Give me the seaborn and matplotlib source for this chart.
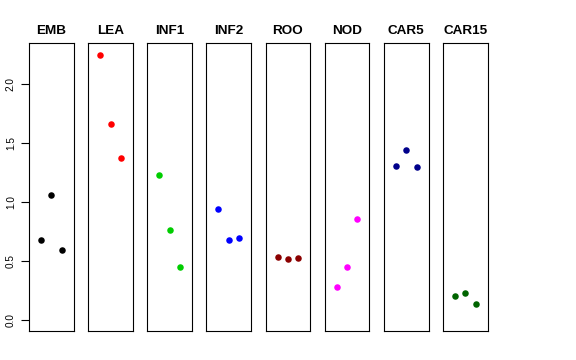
import matplotlib
matplotlib.use("Agg")
import matplotlib.pyplot as plt
import pandas as pd
import seaborn as sns

# valores (3 replicas por tejido)
tissues = ["EMB", "LEA", "INF1", "INF2", "ROO", "NOD", "CAR5", "CAR15"]
colors = ["black", "red", "#00CD00", "blue", "#8B0000", "magenta", "#00008B", "#006400"]
emb = [0.68, 1.055, 0.595]
lea = [2.245, 1.655, 1.37]
inf1 = [1.225, 0.765, 0.45]
inf2 = [0.94, 0.675, 0.695]
roo = [0.536, 0.519, 0.522]
nod = [0.28, 0.445, 0.856]
car5 = [1.303, 1.435, 1.297]
car15 = [0.205, 0.23, 0.132]
replicate = [1, 2, 3]

values = [emb, lea, inf1, inf2, roo, nod, car5, car15]

sns.set_style("white")
plt.rcParams["font.family"] = ["Liberation Sans", "DejaVu Sans"]

fig = plt.figure(figsize=(5.76, 3.6), dpi=100)

W, H = 576, 360
top, bottom = 43.3, 330.7
panel_w = 44.7
step = 59.15
left0 = 29

for i, (name, col, vals) in enumerate(zip(tissues, colors, values)):
    x0 = left0 + i * step
    ax = fig.add_axes([x0 / W, 1 - bottom / H, panel_w / W, (bottom - top) / H])
    df = pd.DataFrame({"rep": replicate, "val": vals})
    sns.scatterplot(data=df, x="rep", y="val", color=col, s=22, linewidth=0, ax=ax)
    ax.set_xlim(-0.16, 4.16)
    ax.set_ylim(-0.09, 2.34)
    ax.set_xticks([])
    ax.set_xlabel("")
    ax.set_ylabel("")
    ax.set_title(name, fontweight="bold", fontsize=9.7, pad=6.5, color="black")
    for sp in ax.spines.values():
        sp.set_visible(True)
        sp.set_color("black")
        sp.set_linewidth(0.8)
    if i == 0:
        ax.set_yticks([0.0, 0.5, 1.0, 1.5, 2.0])
        ax.set_yticklabels(["0.0", "0.5", "1.0", "1.5", "2.0"], rotation=90,
                           va="center", fontsize=7.2, color="black")
        ax.tick_params(axis="y", left=True, length=5.5, width=0.8, pad=4,
                       color="black")
    else:
        ax.set_yticks([])

fig.savefig("out.png", dpi=100)
